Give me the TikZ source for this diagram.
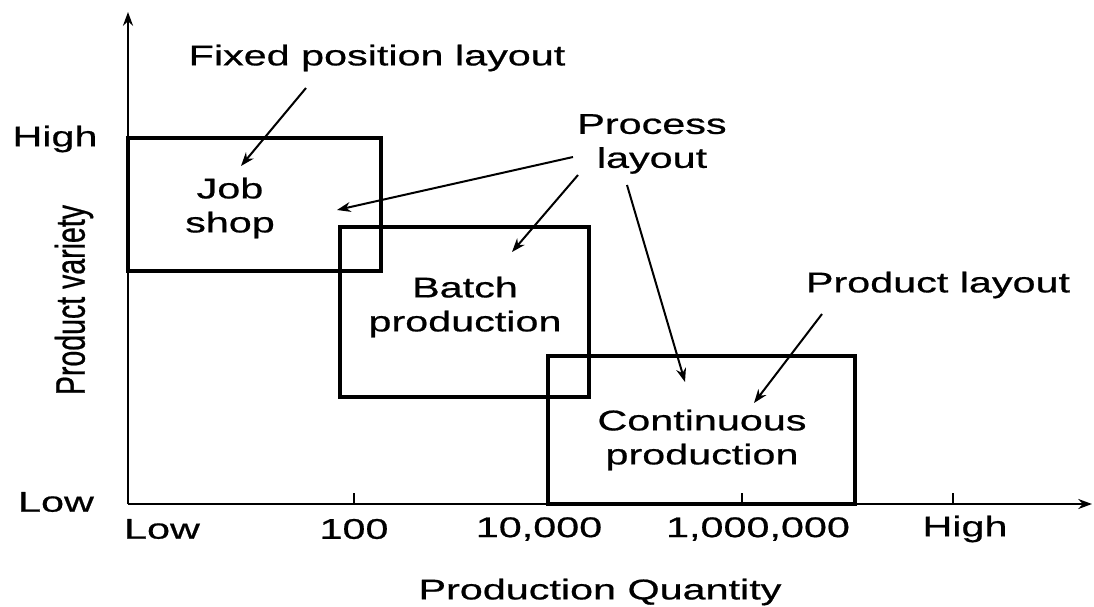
\documentclass[tikz,border=0pt]{standalone}
\usepackage{graphicx}
\usepackage{fontspec}
\setmainfont[FakeStretch=1.45,FakeBold=0.7]{Liberation Sans}
\newfontfamily\plainsans[FakeBold=0.7]{Liberation Sans}
\usetikzlibrary{arrows.meta}

\begin{document}
\begin{tikzpicture}[x={(0.4pt,0)},y={(0,-0.4pt)},>={Stealth[length=5.5pt,width=4pt]},
every node/.style={font=\fontsize{11.4}{13.6}\selectfont,inner sep=0pt,align=center},
box/.style={line width=1.6pt},
axis/.style={line width=1.1pt,->},
ptr/.style={line width=0.8pt,->},
tickmark/.style={line width=0.9pt}]
\useasboundingbox (0,0) rectangle (1094,607);
% axes
\coordinate (origin) at (128,504);
\coordinate (ytop) at (128,12);
\coordinate (xend) at (1092,504);
\draw[axis] (origin)--(ytop);
\draw[axis] (origin)--(xend);
\foreach \x in {354,742,953} \draw[tickmark] (\x,504)--(\x,493);
% regions
\draw[box] (128,138) rectangle (381,271);
\draw[box] (340,227) rectangle (589,397);
\draw[box] (548,356) rectangle (855,504);
\node (jobshop) at (230,208) {Job\\shop};
\node (batch) at (465,307) {Batch\\production};
\node (contin) at (702,440) {Continuous\\production};
% axis labels
\node (yhigh) at (55,139) {High};
\node (ylow) at (56,502) {Low};
\node[rotate=90] (yvar) at (74,300) {\plainsans\scalebox{1}[1.45]{Product variety}};
\node (xlow) at (162,529) {Low};
\node (x100) at (354,529) {100};
\node (x1e4) at (539,529) {10,000};
\node (x1e6) at (758,529) {1,000,000};
\node (xhigh) at (965,529) {High};
\node (xqty) at (600,592) {Production Quantity};
% layouts
\node (fixed) at (377,58) {Fixed position layout};
\node (process) at (652,144) {Process\\layout};
\node (product) at (938,285) {Product layout};
\coordinate (fixed-a) at (306,88);
\coordinate (proc-a) at (573,157);
\coordinate (proc-b) at (578,175);
\coordinate (proc-c) at (627,185);
\coordinate (prod-a) at (822,314);
\coordinate (job-in) at (241,166);
\coordinate (job-in2) at (337,210);
\coordinate (batch-in) at (512,252);
\coordinate (cont-in) at (685,382);
\coordinate (cont-in2) at (754,403);
\draw[ptr] (fixed-a)--(job-in);
\draw[ptr] (proc-a)--(job-in2);
\draw[ptr] (proc-b)--(batch-in);
\draw[ptr] (proc-c)--(cont-in);
\draw[ptr] (prod-a)--(cont-in2);
\end{tikzpicture}
\end{document}
